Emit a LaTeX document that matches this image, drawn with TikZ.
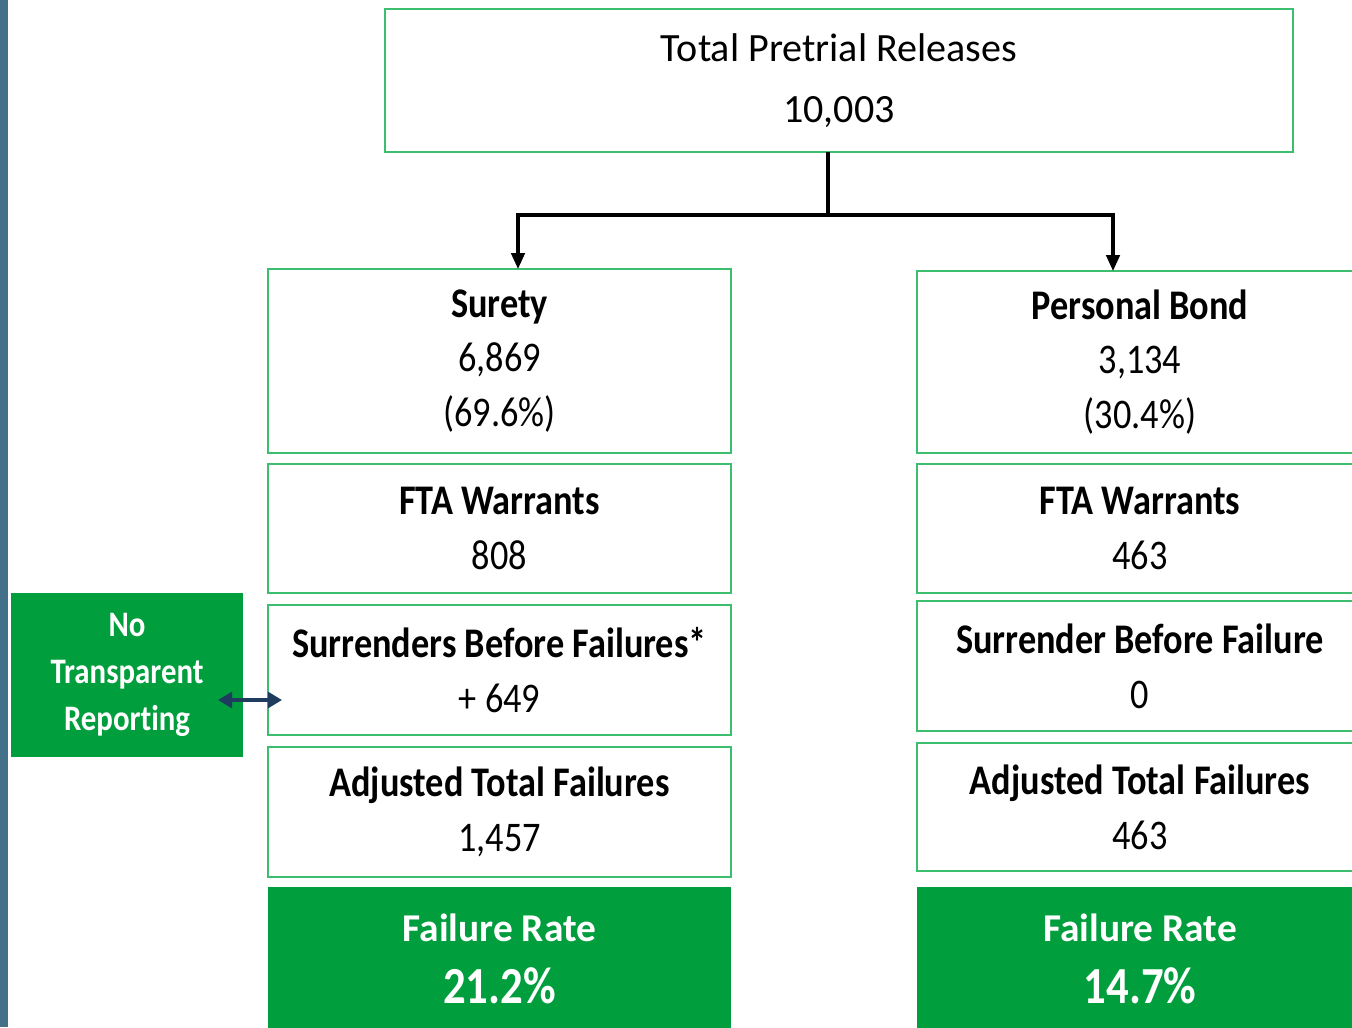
\documentclass[tikz,border=0pt]{standalone}
\usepackage{fontspec}
\setmainfont{Carlito}
\newfontfamily\tallfont[FakeStretch=0.86,Ligatures=NoCommon]{Carlito}
\usetikzlibrary{arrows.meta}
\definecolor{bordergreen}{HTML}{3DBE6E}
\definecolor{fillgreen}{HTML}{009E3D}
\definecolor{sidebar}{HTML}{44718A}
\definecolor{navy}{HTML}{1F3B5E}
\tikzset{
  box/.style={draw=bordergreen, line width=0.6pt, fill=white, inner sep=0pt, outer sep=0pt,
    align=center, text=black, font=\tallfont\fontsize{12}{15.6}\selectfont},
  topbox/.style={box, font=\fontsize{11.4}{17.4}\selectfont},
  failbox/.style={fill=fillgreen, inner sep=0pt, outer sep=0pt, align=center, text=white,
    font=\bfseries\fontsize{11.2}{17.6}\selectfont},
  notebox/.style={fill=fillgreen, inner sep=0pt, outer sep=0pt, align=center, text=white,
    font=\tallfont\bfseries\fontsize{10.2}{13.4}\selectfont},
  conn/.style={draw=black, line width=0.9pt},
  arr/.style={conn, -{Triangle[length=4.5pt,width=3.8pt]}},
  dbl/.style={draw=navy, line width=1pt, {Triangle[length=4pt,width=4.5pt]}-{Triangle[length=4pt,width=4.5pt]}}
}
\begin{document}
\begin{tikzpicture}[x=0.01cm,y=-0.01cm]
\useasboundingbox (0,0) rectangle (1352,1027);
\clip (0,0) rectangle (1352,1027);
\fill[white] (0,0) rectangle (1352,1027);
\fill[sidebar] (0,0) rectangle (8,1027);

\node[topbox, minimum width=9.08cm, minimum height=1.43cm] (top) at (839,80.5)
  {Total Pretrial Releases\\10,003};

% left column
\node[box, minimum width=4.63cm, minimum height=1.84cm] (surety) at (499.5,361)
  {\textbf{Surety}\\6,869\\(69.6\%)};
\node[box, minimum width=4.63cm, minimum height=1.29cm] (lfta) at (499.5,528.5)
  {\textbf{FTA Warrants}\\808};
\node[box, minimum width=4.63cm, minimum height=1.30cm] (lsur) at (499.5,670)
  {\textbf{Surrenders Before Failures*}\\+ 649};
\node[box, minimum width=4.63cm, minimum height=1.30cm] (ladj) at (499.5,812)
  {\textbf{Adjusted Total Failures}\\1,457};
\node[failbox, minimum width=4.63cm, minimum height=1.44cm] (lfail) at (499.5,959)
  {Failure Rate\\{\tallfont\bfseries\fontsize{14.8}{17.6}\selectfont 21.2\%}};

% right column
\node[box, minimum width=4.46cm, minimum height=1.82cm] (personal) at (1140,362)
  {\textbf{Personal Bond}\\3,134\\(30.4\%)};
\node[box, minimum width=4.46cm, minimum height=1.29cm] (rfta) at (1140,528.5)
  {\textbf{FTA Warrants}\\463};
\node[box, minimum width=4.46cm, minimum height=1.30cm] (rsur) at (1140,666)
  {\textbf{Surrender Before Failure}\\0};
\node[box, minimum width=4.46cm, minimum height=1.28cm] (radj) at (1140,807)
  {\textbf{Adjusted Total Failures}\\463};
\node[failbox, minimum width=4.46cm, minimum height=1.44cm] (rfail) at (1140,959)
  {Failure Rate\\{\tallfont\bfseries\fontsize{14.8}{17.6}\selectfont 14.7\%}};

% note box
\node[notebox, minimum width=2.32cm, minimum height=1.64cm] (nt) at (127,675)
  {No\\Transparent\\Reporting};

% connectors
\coordinate (junction) at (828,215);
\coordinate (la) at (518,269);
\coordinate (ra) at (1113,271);
\draw[conn] (top.south -| junction) -- (junction);
\draw[arr] (junction) -| (la);
\draw[arr] (junction) -| (ra);

\coordinate (dl) at (218,700);
\coordinate (dr) at (282,700);
\draw[dbl] (dl) -- (dr);
\end{tikzpicture}
\end{document}
